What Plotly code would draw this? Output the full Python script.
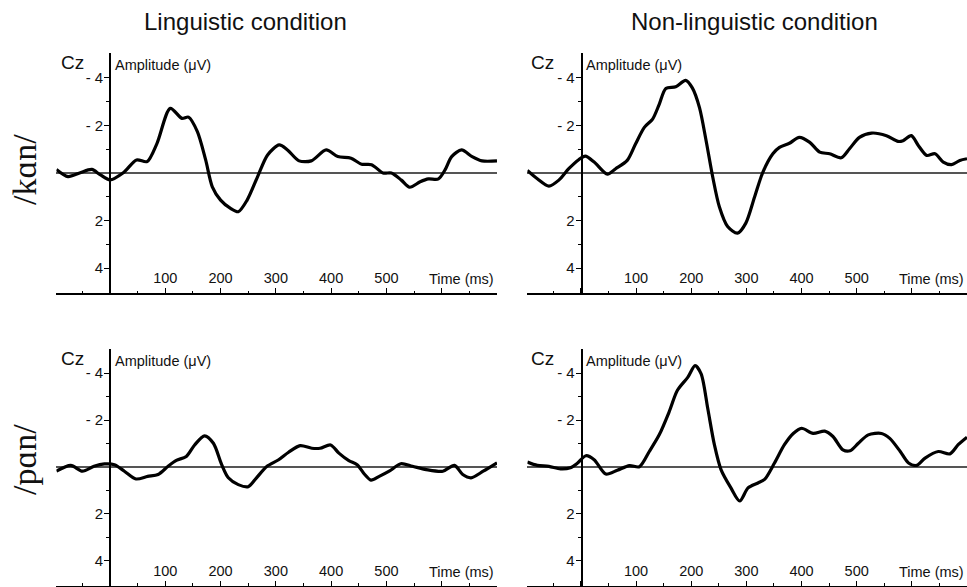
import plotly.graph_objects as go

# ---- data (time in ms, amplitude in microvolts; negative plotted up) ----
t_ling_kan = [-97, -76, -55, -33, -18, 0, 24, 48, 67, 85, 109, 130, 142, 158, 173, 185, 200, 218, 232, 248,
              267, 285, 306, 321, 342, 364, 391, 412, 436, 455, 473, 494, 509, 527, 542, 561, 576, 594, 606,
              618, 636, 655, 673, 700]
v_ling_kan = [-0.15, 0.15, 0.0, -0.15, 0.07, 0.29, -0.01, -0.55, -0.48, -1.25, -2.72, -2.3, -2.35, -1.74,
              -0.55, 0.58, 1.14, 1.49, 1.63, 1.14, 0.15, -0.76, -1.18, -0.97, -0.51, -0.51, -0.97, -0.69,
              -0.62, -0.37, -0.35, 0.0, 0.0, 0.3, 0.6, 0.37, 0.25, 0.25, -0.13, -0.69, -0.97, -0.69, -0.51, -0.51]

t_nonling_kan = [-97, -79, -58, -40, -22, -4, 8, 24, 48, 63, 84, 99, 115, 130, 142, 154, 172, 190, 202, 215,
                 227, 239, 251, 266, 284, 299, 315, 330, 348, 360, 378, 396, 415, 433, 451, 472, 487, 505,
                 527, 554, 575, 584, 599, 612, 627, 642, 657, 672, 687, 700]
v_nonling_kan = [-0.11, 0.24, 0.55, 0.3, -0.18, -0.56, -0.71, -0.46, 0.05, -0.18, -0.53, -1.22, -1.92, -2.27,
                 -2.89, -3.56, -3.63, -3.9, -3.58, -2.75, -1.36, 0.17, 1.42, 2.25, 2.53, 2.11, 1.0, -0.04,
                 -0.81, -1.08, -1.25, -1.5, -1.29, -0.88, -0.81, -0.64, -1.02, -1.5, -1.68, -1.57, -1.33,
                 -1.36, -1.57, -1.15, -0.74, -0.81, -0.46, -0.35, -0.53, -0.6]

t_ling_pan = [-97, -71, -50, -29, -10, 8, 26, 47, 68, 87, 105, 120, 138, 153, 171, 187, 202, 214, 232, 250,
              265, 284, 305, 323, 344, 365, 380, 399, 414, 432, 447, 460, 472, 487, 505, 526, 547, 572, 602,
              623, 638, 653, 675, 700]
v_ling_pan = [0.18, -0.07, 0.18, -0.03, -0.13, -0.1, 0.18, 0.51, 0.4, 0.32, -0.03, -0.28, -0.45, -0.94,
              -1.33, -1.01, -0.1, 0.46, 0.75, 0.84, 0.46, -0.03, -0.31, -0.63, -0.91, -0.8, -0.8, -0.94,
              -0.59, -0.27, -0.1, 0.3, 0.56, 0.4, 0.18, -0.14, -0.03, 0.11, 0.18, -0.07, 0.32, 0.46, 0.18, -0.18]

t_nonling_pan = [-97, -79, -58, -37, -19, -6, 9, 24, 45, 66, 88, 106, 124, 142, 160, 175, 194, 207, 218, 230,
                 242, 254, 272, 288, 303, 321, 333, 351, 369, 385, 400, 421, 442, 457, 475, 488, 503, 521,
                 545, 560, 579, 594, 609, 624, 648, 669, 684, 700]
v_nonling_pan = [-0.21, -0.07, -0.03, 0.08, 0.03, -0.17, -0.48, -0.31, 0.3, 0.14, -0.06, -0.01, -0.66, -1.37,
                 -2.35, -3.27, -3.83, -4.32, -3.97, -2.49, -0.95, 0.11, 0.89, 1.45, 0.89, 0.68, 0.53, -0.17,
                 -0.95, -1.43, -1.65, -1.43, -1.53, -1.3, -0.73, -0.69, -1.01, -1.37, -1.43, -1.22, -0.66,
                 -0.17, -0.07, -0.38, -0.66, -0.56, -0.95, -1.27]

column_titles = ["Linguistic condition", "Non-linguistic condition"]
row_labels = ["/kɑn/", "/pɑn/"]
x_tickvals = [0, 100, 200, 300, 400, 500, 600, 700]
x_ticktext = ["", "100", "200", "300", "400", "500", "", ""]
y_tickvals = [-4, -2, 2, 4]
y_ticktext = ["- 4", "- 2", "2", "4"]
y_minor = [-3, -1, 1, 3]

# ---- layout geometry ----
W, H = 967, 587
x_doms = [[56.4 / W, 497.0 / W], [527.4 / W, 1.0]]
x_ranges = [[-97, 700], [-97, 700]]
y_doms = [[1 - 293.0 / H, 1 - 53.0 / H], [1 - 585.5 / H, 1 - 348.5 / H]]
zero_px = [110.0, 581.5]

panels = [
    (t_ling_kan, v_ling_kan, 0, 0),
    (t_nonling_kan, v_nonling_kan, 0, 1),
    (t_ling_pan, v_ling_pan, 1, 0),
    (t_nonling_pan, v_nonling_pan, 1, 1),
]

FONT = "Liberation Sans, Arial, sans-serif"
SERIF = "Liberation Serif, DejaVu Serif, serif"
fig = go.Figure()
annotations = []
layout = {}

for i, (t, v, r, c) in enumerate(panels):
    n = "" if i == 0 else str(i + 1)
    xa, ya = "x" + n, "y" + n
    fig.add_trace(go.Scatter(x=t, y=v, mode="lines", xaxis=xa, yaxis=ya,
                             line=dict(color="black", width=3.2, shape="spline", smoothing=0.8),
                             showlegend=False, hoverinfo="skip"))
    layout["xaxis" + n] = dict(
        domain=x_doms[c], range=x_ranges[c], anchor=ya, side="bottom",
        showline=True, linecolor="black", linewidth=1.6, showgrid=False, zeroline=False,
        tickmode="array", tickvals=x_tickvals, ticktext=x_ticktext,
        ticks="inside", ticklen=5, tickwidth=1.4, tickcolor="black",
        ticklabelposition="inside", ticklabelstandoff=2,
        tickfont=dict(family=FONT, size=14.5, color="#111111"),
        minor=dict(tickmode="linear", tick0=0, dtick=50, ticks="inside", ticklen=2.5,
                   tickwidth=1.4, tickcolor="black", showgrid=False),
        fixedrange=True)
    pos = zero_px[c] / W
    layout["yaxis" + n] = dict(
        domain=y_doms[r], range=[5.05, -5.05], anchor="free", position=pos,
        showline=True, linecolor="black", linewidth=1.6, showgrid=False,
        zeroline=True, zerolinecolor="#555555", zerolinewidth=1.5,
        tickmode="array", tickvals=y_tickvals, ticktext=y_ticktext,
        ticks="outside", ticklen=5, tickwidth=1.4, tickcolor="black",
        ticklabelstandoff=-2,
        tickfont=dict(family=FONT, size=15, color="#111111"),
        minor=dict(tickmode="array", tickvals=y_minor, ticks="outside", ticklen=3,
                   tickwidth=1.2, tickcolor="black", showgrid=False),
        fixedrange=True)
    annotations.append(dict(text="Cz", xref=xa, yref=ya, x=0, y=-5.05, xanchor="center", yanchor="middle",
                            xshift=-38, yshift=-10, showarrow=False,
                            font=dict(family=FONT, size=19, color="#111111")))
    annotations.append(dict(text="Amplitude (μV)", xref=xa, yref=ya, x=0, y=-5.05, xanchor="left",
                            yanchor="middle", xshift=3, yshift=-12, showarrow=False,
                            font=dict(family=FONT, size=14.5, color="#111111")))
    annotations.append(dict(text="Time (ms)", xref=xa, yref=ya, x=698, y=5.05, xanchor="right",
                            yanchor="middle", xshift=0, yshift=14, showarrow=False,
                            font=dict(family=FONT, size=14.5, color="#111111")))

annotations.append(dict(text=column_titles[0], xref="paper", yref="paper", x=245 / W, y=1 - 21 / H,
                        xanchor="center", yanchor="middle", showarrow=False,
                        font=dict(family=FONT, size=24, color="#111111")))
annotations.append(dict(text=column_titles[1], xref="paper", yref="paper", x=754 / W, y=1 - 21 / H,
                        xanchor="center", yanchor="middle", showarrow=False,
                        font=dict(family=FONT, size=24, color="#111111")))
annotations.append(dict(text=row_labels[0], xref="paper", yref="paper", x=24 / W, y=1 - 170 / H,
                        xanchor="center", yanchor="middle", textangle=-90, showarrow=False,
                        font=dict(family=SERIF, size=34, color="#111111")))
annotations.append(dict(text=row_labels[1], xref="paper", yref="paper", x=24 / W, y=1 - 460 / H,
                        xanchor="center", yanchor="middle", textangle=-90, showarrow=False,
                        font=dict(family=SERIF, size=34, color="#111111")))

fig.update_layout(width=W, height=H, margin=dict(l=0, r=0, t=0, b=0),
                  paper_bgcolor="white", plot_bgcolor="white",
                  annotations=annotations, **layout)

fig.write_html("out.html", config={"displayModeBar": False},
               post_script="document.body.style.margin='0';document.body.style.overflow='hidden';")
